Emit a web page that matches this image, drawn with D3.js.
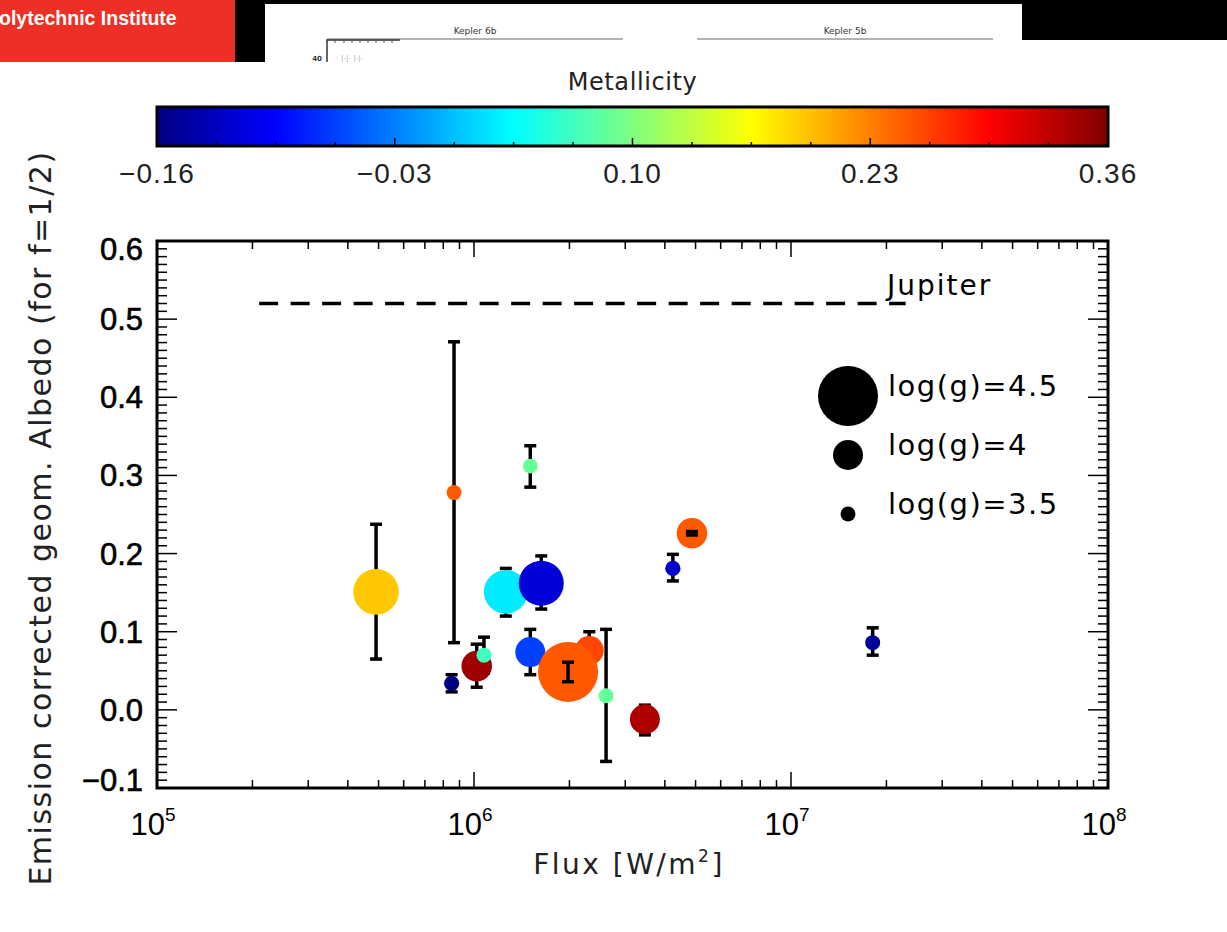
<!DOCTYPE html>
<html>
<head>
<meta charset="utf-8">
<script src="https://cdn.jsdelivr.net/npm/d3@7"></script>
<style>
  html, body { margin: 0; padding: 0; background: #fff; }
  svg { display: block; }
</style>
</head>
<body>
<svg id="chart" width="1227" height="932"></svg>
<script>
// Planets: incident flux, emission-corrected geometric albedo with 1-sigma range,
// host-star metallicity [Fe/H] (colour) and surface gravity log(g) (marker size).
const flux       = [4.91e5, 8.65e5, 8.5e5, 1.02e6, 1.075e6, 1.26e6, 1.63e6, 1.505e6, 1.505e6, 2.31e6, 1.98e6, 2.61e6, 3.46e6, 4.87e6, 4.24e6, 1.81e7];
const albedo     = [0.151, 0.278, 0.034, 0.056, 0.070, 0.151, 0.162, 0.312, 0.074, 0.076, 0.0486, 0.018, -0.012, 0.226, 0.181, 0.086];
const albedoLow  = [0.065, 0.086, 0.023, 0.029, 0.047, 0.120, 0.129, 0.285, 0.045, 0.052, 0.036, -0.066, -0.032, 0.2238, 0.165, 0.070];
const albedoHigh = [0.2375, 0.471, 0.045, 0.084, 0.093, 0.181, 0.197, 0.338, 0.103, 0.100, 0.061, 0.103, 0.006, 0.2282, 0.199, 0.105];
const metallicity = [0.193, 0.249, -0.16, 0.344, 0.0675, 0.025, -0.115, 0.087, -0.0625, 0.26, 0.25, 0.087, 0.336, 0.25, -0.12, -0.148];
const logg       = [4.26, 3.5, 3.51, 4.01, 3.5, 4.23, 4.25, 3.49, 4.0, 3.96, 4.5, 3.5, 4.0, 4.01, 3.51, 3.5];

// Jupiter reference level
const jupiterAlbedo = 0.52;
const jupiterFluxRange = [2.1e5, 2.3e7];

// Legend entries
const legendLogg = [4.5, 4, 3.5];
const legendLabels = ["log(g)=4.5", "log(g)=4", "log(g)=3.5"];

// Axis ticks
const yTickValues = [-0.1, 0.0, 0.1, 0.2, 0.3, 0.4, 0.5, 0.6];
const xTickExponents = [5, 6, 7, 8];
const cbTickValues = [-0.16, -0.03, 0.10, 0.23, 0.36];
const cbTickLabels = ["\u22120.16", "\u22120.03", "0.10", "0.23", "0.36"];
const cbMinorStep = 0.0325;

// Jet colour table over the metallicity range
const jetStops  = [-0.16, -0.095, 0.035, 0.165, 0.295, 0.36];
const jetColors = ["#000080", "#0000ff", "#00ffff", "#ffff00", "#ff0000", "#800000"];

const points = flux.map((f, i) => ({
  flux: f, a: albedo[i], lo: albedoLow[i], hi: albedoHigh[i],
  z: metallicity[i], g: logg[i]
}));

const svg = d3.select("#chart");

// ---------- page banner ----------
const banner = svg.append("g");
banner.append("rect").attr("x", 0).attr("y", 0).attr("width", 1227).attr("height", 40).attr("fill", "#000");
banner.append("rect").attr("x", 235).attr("y", 0).attr("width", 30).attr("height", 62).attr("fill", "#000");
banner.append("rect").attr("x", 0).attr("y", 0).attr("width", 235).attr("height", 62).attr("fill", "#ee2f25");
banner.append("text").attr("x", -1).attr("y", 25)
  .attr("font-family", "'Liberation Sans', Arial, sans-serif")
  .attr("font-weight", "bold").attr("font-size", 19.5).attr("fill", "#fff")
  .text("olytechnic Institute");
banner.append("rect").attr("x", 265).attr("y", 4).attr("width", 757).attr("height", 58).attr("fill", "#fff");
[[327, 623, "Kepler 6b"], [697, 993, "Kepler 5b"]].forEach(([x0, x1, t]) => {
  banner.append("line").attr("x1", x0).attr("x2", x1).attr("y1", 39).attr("y2", 39)
    .attr("stroke", "#666").attr("stroke-width", 1);
  banner.append("text").attr("x", (x0 + x1) / 2).attr("y", 34).attr("text-anchor", "middle")
    .attr("font-family", "'DejaVu Sans', sans-serif").attr("font-size", 9).attr("fill", "#333").text(t);
});
banner.append("path").attr("d", "M327,62V40H400").attr("fill", "none").attr("stroke", "#333").attr("stroke-width", 1.5);
[335, 344, 352, 360, 368, 376, 384, 392].forEach(px =>
  banner.append("line").attr("x1", px).attr("x2", px).attr("y1", 40).attr("y2", 43).attr("stroke", "#555"));
banner.append("text").attr("x", 322).attr("y", 61).attr("text-anchor", "end")
  .attr("font-family", "'DejaVu Sans', sans-serif").attr("font-size", 7).attr("font-weight", "bold").attr("fill", "#333").text("40");
banner.append("text").attr("x", 336).attr("y", 62)
  .attr("font-family", "'DejaVu Sans', sans-serif").attr("font-size", 8).attr("fill", "#bbb").text("·  I·I·  I·I·");

// ---------- scales ----------
const plot = { left: 157, right: 1108, top: 241, bottom: 788 };
const x = d3.scaleLog().domain([1e5, 1e8]).range([plot.left, plot.right]);
const y = d3.scaleLinear().domain([-0.1, 0.6]).range([plot.bottom, plot.top]);
const color = d3.scaleLinear().domain(jetStops).range(jetColors).clamp(true);
const radius = d3.scaleLinear().domain([3.5, 4, 4.5]).range([7.5, 15, 30]);

const labelFont = "'DejaVu Sans', sans-serif";
const tickFont = "'Liberation Sans', Arial, sans-serif";

// ---------- colour bar ----------
const cb = { left: 157, right: 1108, top: 107, bottom: 146 };
const cbX = d3.scaleLinear().domain([-0.16, 0.36]).range([cb.left, cb.right]);
const cbG = svg.append("g");
cbG.selectAll("rect.cb").data(d3.range(cb.left, cb.right)).join("rect")
  .attr("x", d => d).attr("y", cb.top).attr("width", 1.5).attr("height", cb.bottom - cb.top)
  .attr("fill", d => color(cbX.invert(d + 0.5)));
const cbMinor = d3.range(cbX.domain()[0] + cbMinorStep, cbX.domain()[1] - cbMinorStep / 2, cbMinorStep);
cbG.selectAll("line.minor").data(cbMinor).join("line")
  .attr("x1", d => cbX(d)).attr("x2", d => cbX(d))
  .attr("y1", cb.bottom).attr("y2", (d, i) => cb.bottom - ((i + 1) % 4 === 0 ? 8 : 4))
  .attr("stroke", "#000").attr("stroke-width", 1.5);
cbG.append("rect").attr("x", cb.left).attr("y", cb.top)
  .attr("width", cb.right - cb.left).attr("height", cb.bottom - cb.top)
  .attr("fill", "none").attr("stroke", "#000").attr("stroke-width", 3);
cbG.selectAll("text.cbt").data(cbTickValues).join("text")
  .attr("x", d => cbX(d)).attr("y", 183).attr("text-anchor", "middle")
  .attr("font-family", tickFont).attr("font-size", 28).attr("letter-spacing", 1).attr("fill", "#222")
  .text((d, i) => cbTickLabels[i]);
cbG.append("text").attr("x", (cb.left + cb.right) / 2).attr("y", 90).attr("text-anchor", "middle")
  .attr("font-family", labelFont).attr("font-size", 24).attr("letter-spacing", 0.6).attr("fill", "#222").text("Metallicity");

// ---------- axes frame and ticks ----------
const axes = svg.append("g");
// y ticks: major every 0.1, minor every 0.01, on both sides, pointing inwards
const yMinor = d3.range(-100, 601, 10).map(v => v / 1000);
yMinor.forEach((v, i) => {
  const major = i % 10 === 0;
  const len = major ? 20 : 10;
  axes.append("line").attr("x1", plot.left).attr("x2", plot.left + len)
    .attr("y1", y(v)).attr("y2", y(v)).attr("stroke", "#000").attr("stroke-width", 1.5);
  axes.append("line").attr("x1", plot.right).attr("x2", plot.right - len)
    .attr("y1", y(v)).attr("y2", y(v)).attr("stroke", "#000").attr("stroke-width", 1.5);
});
// x ticks: log decades with minor ticks 2..9
const xTicks = [];
for (let e = 5; e < 8; e++) for (let m = 1; m < 10; m++) xTicks.push({ v: m * Math.pow(10, e), major: m === 1 });
xTicks.push({ v: 1e8, major: true });
xTicks.forEach(t => {
  const len = t.major ? 16 : 8;
  axes.append("line").attr("x1", x(t.v)).attr("x2", x(t.v))
    .attr("y1", plot.bottom).attr("y2", plot.bottom - len).attr("stroke", "#000").attr("stroke-width", 1.5);
  axes.append("line").attr("x1", x(t.v)).attr("x2", x(t.v))
    .attr("y1", plot.top).attr("y2", plot.top + len).attr("stroke", "#000").attr("stroke-width", 1.5);
});
axes.append("rect").attr("x", plot.left).attr("y", plot.top)
  .attr("width", plot.right - plot.left).attr("height", plot.bottom - plot.top)
  .attr("fill", "none").attr("stroke", "#000").attr("stroke-width", 3);

// y tick labels, the end labels kept inside the frame height
axes.selectAll("text.yt").data(yTickValues).join("text")
  .attr("x", 143).attr("y", d => Math.min(Math.max(y(d), plot.top + 8), plot.bottom - 8) + 11)
  .attr("text-anchor", "end")
  .attr("font-family", tickFont).attr("font-size", 31).attr("fill", "#000")
  .attr("stroke", "#000").attr("stroke-width", 0.6)
  .text(d => d3.format(".1f")(d));

// x tick labels 10^n
xTickExponents.forEach(e => {
  const t = axes.append("text").attr("x", x(Math.pow(10, e)) - 4).attr("y", 835)
    .attr("text-anchor", "middle").attr("font-family", tickFont).attr("fill", "#000");
  t.append("tspan").attr("font-size", 31).text("10");
  t.append("tspan").attr("font-size", 19).attr("dy", -14).text(e);
});

// axis titles
const xt = axes.append("text").attr("x", 629).attr("y", 874).attr("text-anchor", "middle")
  .attr("font-family", labelFont).attr("font-size", 28).attr("letter-spacing", 2.5).attr("fill", "#222");
xt.append("tspan").text("Flux [W/m");
xt.append("tspan").attr("font-size", 17).attr("dy", -12).text("2");
xt.append("tspan").attr("dy", 12).text("]");
axes.append("text").attr("transform", "translate(51,518) rotate(-90)").attr("text-anchor", "middle")
  .attr("font-family", labelFont).attr("font-size", 30).attr("letter-spacing", 1.5).attr("fill", "#222")
  .text("Emission corrected geom. Albedo (for f=1/2)");

// ---------- Jupiter reference ----------
svg.append("line")
  .attr("x1", x(jupiterFluxRange[0])).attr("x2", x(jupiterFluxRange[1]))
  .attr("y1", y(jupiterAlbedo)).attr("y2", y(jupiterAlbedo))
  .attr("stroke", "#000").attr("stroke-width", 3.5).attr("stroke-dasharray", "19 12.5");
svg.append("text").attr("x", 887).attr("y", 295)
  .attr("font-family", labelFont).attr("font-size", 28).attr("letter-spacing", 2).attr("fill", "#000").text("Jupiter");

// ---------- data ----------
const capW = 12;
function drawErrorBar(g, d) {
  const px = x(d.flux);
  g.append("line").attr("x1", px).attr("x2", px).attr("y1", y(d.lo)).attr("y2", y(d.hi));
  g.append("line").attr("x1", px - capW / 2).attr("x2", px + capW / 2).attr("y1", y(d.lo)).attr("y2", y(d.lo));
  g.append("line").attr("x1", px - capW / 2).attr("x2", px + capW / 2).attr("y1", y(d.hi)).attr("y2", y(d.hi));
}
const errBelow = svg.append("g").attr("stroke", "#000").attr("stroke-width", 3.5);
points.forEach(d => drawErrorBar(errBelow, d));

svg.append("g").selectAll("circle").data(points).join("circle")
  .attr("cx", d => x(d.flux)).attr("cy", d => y(d.a)).attr("r", d => radius(d.g))
  .attr("fill", d => color(d.z));

// bars well inside their marker are drawn over it so they stay visible
const errAbove = svg.append("g").attr("stroke", "#000").attr("stroke-width", 3.5);
points.filter(d => (y(d.lo) - y(d.hi)) / 2 < 0.6 * radius(d.g))
  .forEach(d => drawErrorBar(errAbove, d));

// ---------- size legend ----------
const leg = svg.append("g");
legendLogg.forEach((g, i) => {
  const cy = [396, 455, 514][i];
  leg.append("circle").attr("cx", 848).attr("cy", cy).attr("r", radius(g)).attr("fill", "#000");
  leg.append("text").attr("x", 888).attr("y", cy).attr("font-family", labelFont)
    .attr("font-size", 29).attr("letter-spacing", 1.5).attr("fill", "#000").text(legendLabels[i]);
});
</script>
</body>
</html>
